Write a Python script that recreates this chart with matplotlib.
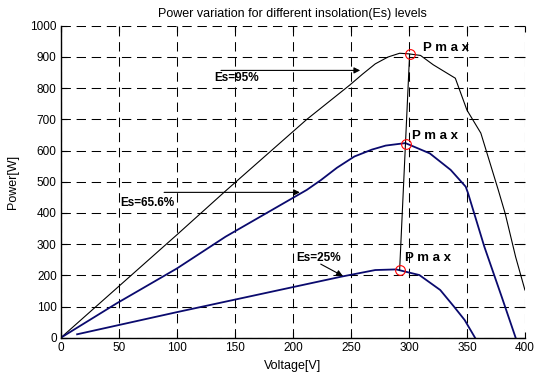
import matplotlib.pyplot as plt

# Power curves (voltage in V, power in W)
v_95 = [0, 50, 100, 143, 212, 249, 260, 271, 282, 292, 300, 310, 321, 340, 350, 362, 377, 383, 392, 400]
p_95 = [0, 165, 330, 474, 700, 810, 845, 878, 900, 912, 910, 905, 875, 832, 730, 656, 474, 398, 259, 153]

v_66 = [0, 48, 100, 142, 212, 224, 238, 253, 268, 280, 297, 318, 336, 349, 351, 365, 380, 392]
p_66 = [0, 110, 222, 324, 474, 505, 545, 581, 603, 616, 624, 591, 538, 484, 463, 292, 131, 0]

v_25 = [14, 100, 242, 271, 289, 309, 327, 339, 348, 357]
p_25 = [11, 82, 196, 217, 219, 201, 153, 99, 57, 0]

# maximum power points
v_pmax = [300.6, 297.4, 292]
p_pmax = [909, 621, 217]

plt.rcParams['font.family'] = ['Liberation Sans', 'DejaVu Sans']
fig = plt.figure(figsize=(5.34, 3.74), dpi=100)
ax = fig.add_axes([0.114, 0.097, 0.869, 0.834])

navy = '#0a0a6e'
ax.plot(v_95, p_95, color='black', lw=0.8)
ax.plot(v_66, p_66, color=navy, lw=1.3)
ax.plot(v_25, p_25, color=navy, lw=1.3)
# line through the Pmax points
ax.plot([v_pmax[0], v_pmax[2]], [p_pmax[0], p_pmax[2]], color='black', lw=0.8)
ax.plot(v_pmax, p_pmax, 'o', mfc='none', mec='red', ms=7, mew=0.8)

ax.set_xlim(0, 400)
ax.set_ylim(0, 1000)
ax.set_xticks(range(0, 401, 50))
ax.set_yticks(range(0, 1001, 100))
ax.grid(True, color='black', ls=(0, (9, 5.5)), lw=0.75)
ax.spines['top'].set_visible(False)
ax.spines['right'].set_visible(False)
ax.spines['left'].set_linewidth(1.0)
ax.spines['bottom'].set_linewidth(1.0)
ax.tick_params(direction='in', length=4, labelsize=8.5, top=True, right=True, pad=3)

ax.set_title('Power variation for different insolation(Es) levels', fontsize=9, pad=6)
ax.set_xlabel('Voltage[V]', fontsize=9)
ax.set_ylabel('Power[W]', fontsize=9)
ax.xaxis.set_label_coords(0.5, -0.071)
ax.yaxis.set_label_coords(-0.09, 0.5)

# annotations
arr = dict(arrowstyle='-|>', color='black', lw=0.8, mutation_scale=9, shrinkA=0, shrinkB=0)
ax.annotate('', xy=(258, 857), xytext=(138, 857), arrowprops=arr)
ax.text(132, 832, 'Es=95%', fontsize=8.5, fontweight='bold', va='center')
ax.annotate('', xy=(206, 466), xytext=(89, 466), arrowprops=arr)
ax.text(51, 433, 'Es=65.6%', fontsize=8.5, fontweight='bold', va='center')
ax.annotate('', xy=(243, 198), xytext=(224, 236), arrowprops=arr)
ax.text(203, 257, 'Es=25%', fontsize=8.5, fontweight='bold', va='center')

ax.text(312, 930, 'P m a x', fontsize=9.5, fontweight='bold', va='center')
ax.text(303, 648, 'P m a x', fontsize=9.5, fontweight='bold', va='center')
ax.text(297, 254, 'P m a x', fontsize=9.5, fontweight='bold', va='center')

fig.savefig('out.png', dpi=100)
